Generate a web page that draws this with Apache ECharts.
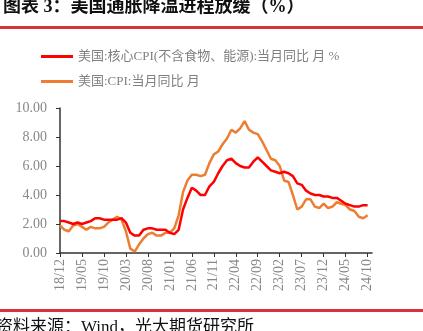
<!DOCTYPE html>
<html><head><meta charset="utf-8">
<script src="https://cdn.jsdelivr.net/npm/echarts@6/dist/echarts.min.js"></script>
<style>html,body{margin:0;padding:0;background:#fff}#c{width:423px;height:331px}</style>
</head><body><div id="c"></div>
<script>
const categories = [];
(function(){ let y=2018, m=12; for(let i=0;i<72;i++){ categories.push(String(y).slice(2)+'/'+(m<10?'0'+m:m)); m++; if(m>12){m=1;y++;} } })();
const coreCPI = [2.2,
 2.2,2.1,2.0,2.1,2.0,2.1,2.2,2.4,2.4,2.3,2.3,2.3,
 2.3,2.4,2.1,1.4,1.2,1.2,1.6,1.7,1.7,1.6,1.6,1.6,
 1.4,1.3,1.6,3.0,3.8,4.5,4.3,4.0,4.0,4.6,4.9,5.5,
 6.0,6.4,6.5,6.2,6.0,5.9,5.9,6.3,6.6,6.3,6.0,5.7,
 5.6,5.5,5.6,5.5,5.3,4.8,4.7,4.3,4.1,4.0,4.0,3.9,
 3.9,3.8,3.8,3.6,3.4,3.3,3.2,3.2,3.3,3.3, null];
const headlineCPI = [1.9,
 1.6,1.5,1.9,2.0,1.8,1.6,1.8,1.7,1.7,1.8,2.1,2.3,
 2.5,2.3,1.5,0.3,0.1,0.6,1.0,1.3,1.4,1.2,1.2,1.4,
 1.4,1.7,2.6,4.2,5.0,5.4,5.4,5.3,5.4,6.2,6.8,7.0,
 7.5,7.9,8.5,8.3,8.6,9.1,8.5,8.3,8.2,7.7,7.1,6.5,
 6.4,6.0,5.0,4.9,4.0,3.0,3.2,3.7,3.7,3.2,3.1,3.4,
 3.1,3.2,3.5,3.4,3.3,3.0,2.9,2.5,2.4,2.6, null];
const seriesNames = ['美国:核心CPI(不含食物、能源):当月同比 月 %', '美国:CPI:当月同比 月'];
const titleText = '图表 3：美国通胀降温进程放缓（%）';
const footerText = '资料来源：Wind，光大期货研究所';

const FONT = "'Liberation Serif', 'Noto Sans CJK SC', serif";
const chart = echarts.init(document.getElementById('c'), null, {renderer:'canvas'});
chart.setOption({
  animation:false,
  backgroundColor:'#fff',
  title:{ text:titleText, left:-2, top:-7, textStyle:{fontFamily:FONT, fontSize:18, fontWeight:'bold', color:'#111'} },
  graphic:[
    {type:'rect', shape:{x:0,y:26,width:423,height:3}, style:{fill:'#d6333b'}},
    {type:'rect', shape:{x:0,y:309,width:423,height:3}, style:{fill:'#d6333b'}},
    {type:'text', left:-4, top:319, style:{text:footerText, font:"17px 'Liberation Serif', 'Noto Sans CJK SC', serif", fill:'#111'}}
  ],
  legend:{
    orient:'vertical', left:36, top:45, itemWidth:32, itemHeight:3, itemGap:12,
    icon:'rect',
    textStyle:{fontFamily:FONT, fontSize:13, color:'#808080'},
    data:seriesNames
  },
  grid:{left:60, right:51, top:108, bottom:78, containLabel:false},
  xAxis:{
    type:'category', data:categories, boundaryGap:false,
    axisLine:{lineStyle:{color:'#333', width:1.5}},
    axisTick:{interval:4, length:4, lineStyle:{color:'#333'}},
    axisLabel:{interval:4, rotate:90, fontFamily:FONT, fontSize:14, color:'#888', margin:6}
  },
  yAxis:{
    type:'value', min:0, max:10, interval:2,
    axisLine:{show:true, lineStyle:{color:'#333', width:1.5}},
    axisTick:{show:true, length:4, lineStyle:{color:'#333'}},
    splitLine:{show:false},
    axisLabel:{formatter:v=>v.toFixed(2), fontFamily:FONT, fontSize:14, color:'#888', margin:13}
  },
  series:[
    {name:seriesNames[0], type:'line', data:coreCPI, showSymbol:false, lineStyle:{color:'#ff0000', width:2.5}, itemStyle:{color:'#ff0000'}, z:3},
    {name:seriesNames[1], type:'line', data:headlineCPI, showSymbol:false, lineStyle:{color:'#ed7d31', width:2.5}, itemStyle:{color:'#ed7d31'}, z:2}
  ]
});
</script></body></html>
